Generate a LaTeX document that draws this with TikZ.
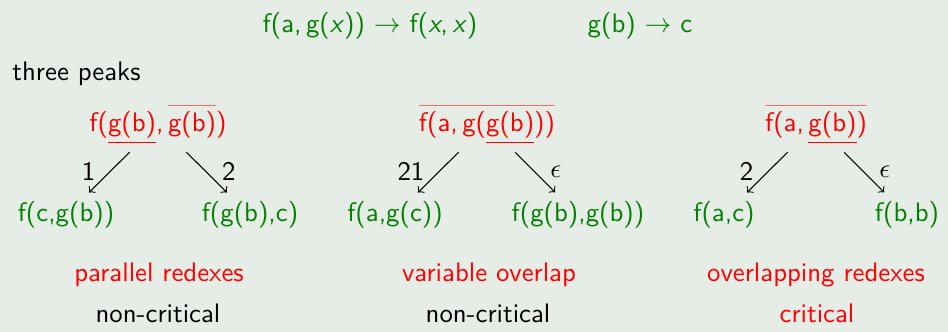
\documentclass[tikz,border=0pt]{standalone}
\usepackage{xcolor}
\renewcommand{\familydefault}{\sfdefault}
\definecolor{slidebg}{RGB}{230,237,230}
\definecolor{termgreen}{RGB}{0,128,0}
\newcommand{\ovl}[1]{{\color{red!60}$\overline{\hbox{\rule{0pt}{8.4pt}\color{red}#1}}$}}
\newcommand{\unl}[1]{$\underline{\hbox{#1}}$}
\newcommand{\vx}{\textit{x}}
\tikzset{
	term/.style={text=termgreen, anchor=base},
	peak/.style={text=red, anchor=base},
	rewr/.style={->, shorten <=0.525cm, shorten >=0.425cm},
	lbl/.style={pos=0.52, font=\sffamily},
	note/.style={anchor=base}
}
\begin{document}
\begin{tikzpicture}[x=0.01313cm, y=-0.01313cm]
	\fill[slidebg] (0,0) rectangle (948,332);
	\useasboundingbox (0,0) rectangle (948,332);
	% rules
	\node[term] (r1) at (370,33) {f(a,\,g(\vx)) $\rightarrow$ f(\vx,\,\vx)};
	\node[term] (r2) at (640,33) {g(b) $\rightarrow$ c};
	\node[note, anchor=base west] (t) at (3,81) {three peaks};
	% parallel
	\node[peak] (p1) at (158,132) {f(\unl{g(b)},\,\ovl{g(b)})};
	\node[term] (p1a) at (66,222) {f(c,g(b))};
	\node[term] (p1b) at (250,222) {f(g(b),c)};
	\draw[rewr] (p1.center) -- (p1a.center) node[lbl, left=2pt]{1};
	\draw[rewr] (p1.center) -- (p1b.center) node[lbl, right=2.5pt]{2};
	\node[note, text=red] (n1) at (159,282) {parallel redexes};
	\node[note] (c1) at (158,323) {non-critical};
	% variable
	\node[peak] (p2) at (487,132) {\ovl{f(a,\,g(\unl{g(b)}))}};
	\node[term] (p2a) at (395,222) {f(a,g(c))};
	\node[term] (p2b) at (578,222) {f(g(b),g(b))};
	\draw[rewr] (p2.center) -- (p2a.center) node[lbl, left=2pt]{21};
	\draw[rewr] (p2.center) -- (p2b.center) node[lbl, right=2.5pt]{$\epsilon$};
	\node[note, text=red] (n2) at (489,282) {variable overlap};
	\node[note] (c2) at (488,323) {non-critical};
	% overlapping
	\node[peak] (p3) at (816,132) {\ovl{f(a,\,\unl{g(b)})}};
	\node[term] (p3a) at (724,222) {f(a,c)};
	\node[term] (p3b) at (907,222) {f(b,b)};
	\draw[rewr] (p3.center) -- (p3a.center) node[lbl, left=2pt]{2};
	\draw[rewr] (p3.center) -- (p3b.center) node[lbl, right=2.5pt]{$\epsilon$};
	\node[note, text=red] (n3) at (816,282) {overlapping redexes};
	\node[note, text=red] (c3) at (817,323) {critical};
\end{tikzpicture}
\end{document}
